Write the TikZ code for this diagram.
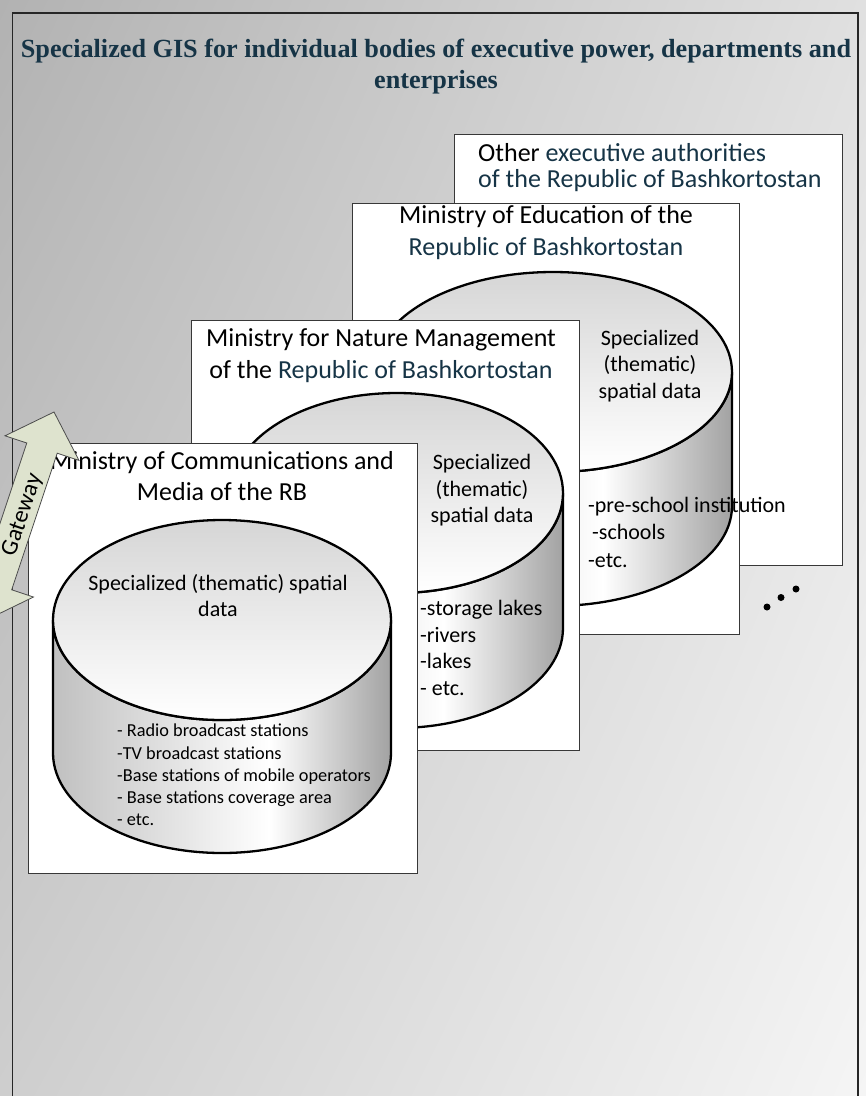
\documentclass[tikz,border=0pt]{standalone}
\usepackage{fontspec}
\setmainfont{Carlito}
\newfontfamily\titleserif{Liberation Serif}
\definecolor{slateink}{RGB}{22, 52, 70}
\definecolor{gatefill}{RGB}{222, 227, 206}
\definecolor{bgul}{RGB}{178, 178, 178}
\definecolor{bgur}{RGB}{224, 224, 224}
\definecolor{bgll}{RGB}{206, 206, 206}
\definecolor{bglr}{RGB}{245, 245, 245}
\definecolor{drumleft}{RGB}{192, 192, 192}
\definecolor{drumright}{RGB}{162, 162, 162}
\definecolor{drumcap}{RGB}{214, 214, 214}
\usepackage{tikz}
\usetikzlibrary{shadings}
\pgfdeclarehorizontalshading{drumbody}{100bp}{color(0bp)=(drumleft); color(25bp)=(drumleft); color(57bp)=(white); color(75bp)=(drumright); color(100bp)=(drumright)}

\begin{document}
\begin{tikzpicture}[x=1pt, y=-1pt,
  govbox/.style={draw=black!78, fill=white, line width=1pt},
  drumside/.style={draw=black, line width=2.3pt, shade, shading=drumbody},
  drumlid/.style={draw=black, line width=2.3pt, top color=drumcap, bottom color=white},
  headtext/.style={font=\fontsize{26}{31.5}\selectfont, align=center, inner sep=0pt},
  datatext/.style={font=\fontsize{22}{26.5}\selectfont, align=center, inner sep=0pt},
  listtext/.style={font=\fontsize{22}{26.5}\selectfont, align=left, inner sep=0pt, anchor=west},
  gateway/.style={draw=black!70, fill=gatefill, line width=0.8pt, line join=miter}]
  \useasboundingbox (0,0) rectangle (866,1096);

  % background and frame
  \shade[upper left=bgul, upper right=bgur, lower left=bgll, lower right=bglr] (0,0) rectangle (866,1096);
  \draw[black!85, line width=1.4pt] (12.5,13) rectangle (858,1110);

  \node[font=\titleserif\bfseries\fontsize{26.2}{31}\selectfont, text=slateink, align=center, inner sep=0pt] (title) at (436,66.7) {Specialized GIS for individual bodies of executive power, departments and\\enterprises};

  % other authorities
  \path[govbox] (454,134) rectangle (842,565);
  \node[headtext, align=left, anchor=west, font=\fontsize{26}{26}\selectfont] (othertitle) at (478,168) {Other \textcolor{slateink}{executive authorities}\\\textcolor{slateink}{of the Republic of Bashkortostan}};

  % education
  \path[govbox] (352,203) rectangle (739,634);
  \node[headtext] (edutitle) at (546,232.7) {Ministry of Education of the\\\textcolor{slateink}{Republic of Bashkortostan}};
  \path[drumside] (374,372) -- (374,506) arc[start angle=180, end angle=0, x radius=179, y radius=100] -- (732,372) arc[start angle=0, end angle=180, x radius=179, y radius=100] -- cycle;
  \path[drumlid] (553,372) ellipse[x radius=179, y radius=100];
  \node[datatext] (edudata) at (650,366) {Specialized\\(thematic)\\spatial data};
  \node[listtext, font=\fontsize{22}{27.3}\selectfont] (edulist) at (588,532.3) {-pre-school institution\\\hspace{4pt}-schools\\-etc.};

  % nature management
  \path[govbox] (191,320) rectangle (579,750);
  \node[headtext] (naturetitle) at (381,355.7) {Ministry for Nature Management\\of the \textcolor{slateink}{Republic of Bashkortostan}};
  \path[drumside] (231,493) -- (231,628) arc[start angle=180, end angle=0, x radius=166, y radius=100] -- (563,493) arc[start angle=0, end angle=180, x radius=166, y radius=100] -- cycle;
  \path[drumlid] (397,493) ellipse[x radius=166, y radius=100];
  \node[datatext] (naturedata) at (482,490.5) {Specialized\\(thematic)\\spatial data};
  \node[listtext] (naturelist) at (420,647.8) {-storage lakes\\-rivers\\-lakes\\- etc.};

  % communications
  \path[govbox] (28,443) rectangle (417,873);
  \node[headtext] (commtitle) at (222,476) {Ministry of Communications and\\Media of the RB};
  \path[drumside] (53,620) -- (53,753) arc[start angle=180, end angle=0, x radius=169, y radius=100] -- (391,620) arc[start angle=0, end angle=180, x radius=169, y radius=100] -- cycle;
  \path[drumlid] (222,620) ellipse[x radius=169, y radius=100];
  \node[datatext] (commdata) at (218,595.6) {Specialized (thematic) spatial\\data};
  \node[listtext, font=\fontsize{18.3}{22.2}\selectfont] (commlist) at (117,775) {- Radio broadcast stations\\-TV broadcast stations\\-Base stations of mobile operators\\- Base stations coverage area\\- etc.};

  % gateway arrow
  \draw[gateway] (54,412) -- (79,460.4) -- (57.2,453.2) -- (11.7,589.8) -- (33.5,597) -- (-15.5,620.8) -- (-40.5,572.4) -- (-18.7,579.6) -- (26.8,443) -- (5,435.8) -- cycle;
  \node[font=\fontsize{24}{28}\selectfont, rotate=71.6, inner sep=0pt] (gatelabel) at (22.5,515) {Gateway};

  % more authorities
  \fill (767,607) circle[radius=3.5];
  \fill (781,597.5) circle[radius=3.5];
  \fill (796,589) circle[radius=3.5];
\end{tikzpicture}
\end{document}
